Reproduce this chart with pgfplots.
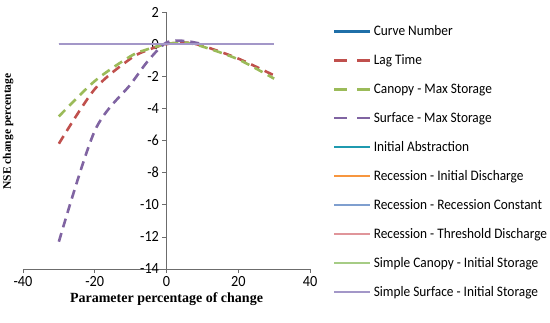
\documentclass[border=0pt]{standalone}
\usepackage{pgfplots}
\pgfplotsset{compat=1.18}
\usepackage{fontspec}
\setmainfont{Carlito}[FakeStretch=0.92]
\newfontfamily\labfont{Liberation Serif}
\usetikzlibrary{calc}
\definecolor{cCN}{HTML}{1F6FA8}
\definecolor{cLag}{HTML}{C0504D}
\definecolor{cCan}{HTML}{9BBB59}
\definecolor{cSur}{HTML}{8064A2}
\definecolor{cIA}{HTML}{1F9AAF}
\definecolor{cRID}{HTML}{F7963F}
\definecolor{cRRC}{HTML}{7F9FCF}
\definecolor{cRTD}{HTML}{E0959A}
\definecolor{cSCI}{HTML}{A6CC85}
\definecolor{cSSI}{HTML}{A397C8}
\pgfplotsset{
  solidleg/.style={legend image code/.code={\draw[##1, solid] (0pt,0pt) -- (36pt,0pt);}},
  dashleg/.style={legend image code/.code={\draw[##1, dash pattern=on 13pt off 10pt] (0pt,0pt) -- (36pt,0pt);}},
}
\begin{document}
\begin{tikzpicture}
\begin{axis}[
  scale only axis, width=287pt, height=257pt,
  xmin=-40, xmax=40, ymin=-14, ymax=2,
  xtick={-40,-20,0,20,40}, ytick={-14,-12,...,2},
  axis x line=bottom, axis y line=middle,
  hide obscured x ticks=false, hide obscured y ticks=false,
  axis line style={-, draw=gray!85!black, line width=0.6pt},
  tick style={draw=gray!85!black, line width=0.6pt},
  major tick length=4pt,
  tick align=outside,
  /pgf/number format/assume math mode=true,
  tick label style={font=\fontsize{15.5}{17}\selectfont},
  xticklabel style={yshift=0pt},
  xlabel={\labfont\bfseries\fontsize{14}{16}\selectfont Parameter percentage of change},
  ylabel={\labfont\bfseries\fontsize{11.5}{13}\selectfont NSE change percentage},
  xlabel style={at={(rel axis cs:0.5,0)}, anchor=north, yshift=-20pt},
  ylabel style={at={(rel axis cs:0,0.5)}, anchor=south, rotate=90, yshift=6pt, xshift=9pt},
  legend style={at={(rel axis cs:1.08,0.955)}, anchor=north west, draw=none, fill=none,
    font=\fontsize{14.5}{16}\selectfont, row sep=13.5pt, inner sep=0pt,
    /tikz/every even column/.append style={column sep=3pt}},
  legend cell align=left,
  solidleg,
  every axis plot/.append style={line width=2.6pt},
  clip=false,
]
\coordinate (O) at (rel axis cs:0,0);
\addplot[cCN, no markers] coordinates {(-30,0) (30,0)};
\addlegendentry{Curve Number}
\addplot[cLag, no markers, smooth, dash pattern=on 9pt off 6pt, dashleg] coordinates {
  (-30,-6.2) (-20,-2.8) (-10,-0.9) (-5,-0.35) (0,0) (5,0.1) (10,-0.1) (20,-0.9) (30,-1.95)};
\addlegendentry{Lag Time}
\addplot[cCan, no markers, smooth, dash pattern=on 9pt off 6pt, dashleg] coordinates {
  (-30,-4.5) (-20,-2.3) (-10,-0.75) (-5,-0.3) (0,0) (5,0.1) (10,-0.15) (20,-0.95) (30,-2.15)};
\addlegendentry{Canopy - Max Storage}
\addplot[cSur, no markers, smooth, dash pattern=on 9pt off 6pt, dashleg] coordinates {
  (-30,-12.3) (-20,-5.4) (-10,-2.5) (-5,-1.0) (0,0.1) (5,0.2) (10,0)};
\addlegendentry{Surface - Max Storage}
\addplot[cIA, no markers] coordinates {(-30,0) (30,0)};
\addlegendentry{Initial Abstraction}
\addplot[cRID, no markers] coordinates {(-30,0) (30,0)};
\addlegendentry{Recession - Initial Discharge}
\addplot[cRRC, no markers] coordinates {(-30,0) (30,0)};
\addlegendentry{Recession - Recession Constant}
\addplot[cRTD, no markers] coordinates {(-30,0) (30,0)};
\addlegendentry{Recession - Threshold Discharge}
\addplot[cSCI, no markers] coordinates {(-30,0) (30,0)};
\addlegendentry{Simple Canopy - Initial Storage}
\addplot[cSSI, no markers] coordinates {(-30,0) (30,0)};
\addlegendentry{Simple Surface - Initial Storage}
\end{axis}
\pgfresetboundingbox
\path ($(O)+(-23pt,-53pt)$) rectangle ($(O)+(527pt,269pt)$);
\end{tikzpicture}
\end{document}
